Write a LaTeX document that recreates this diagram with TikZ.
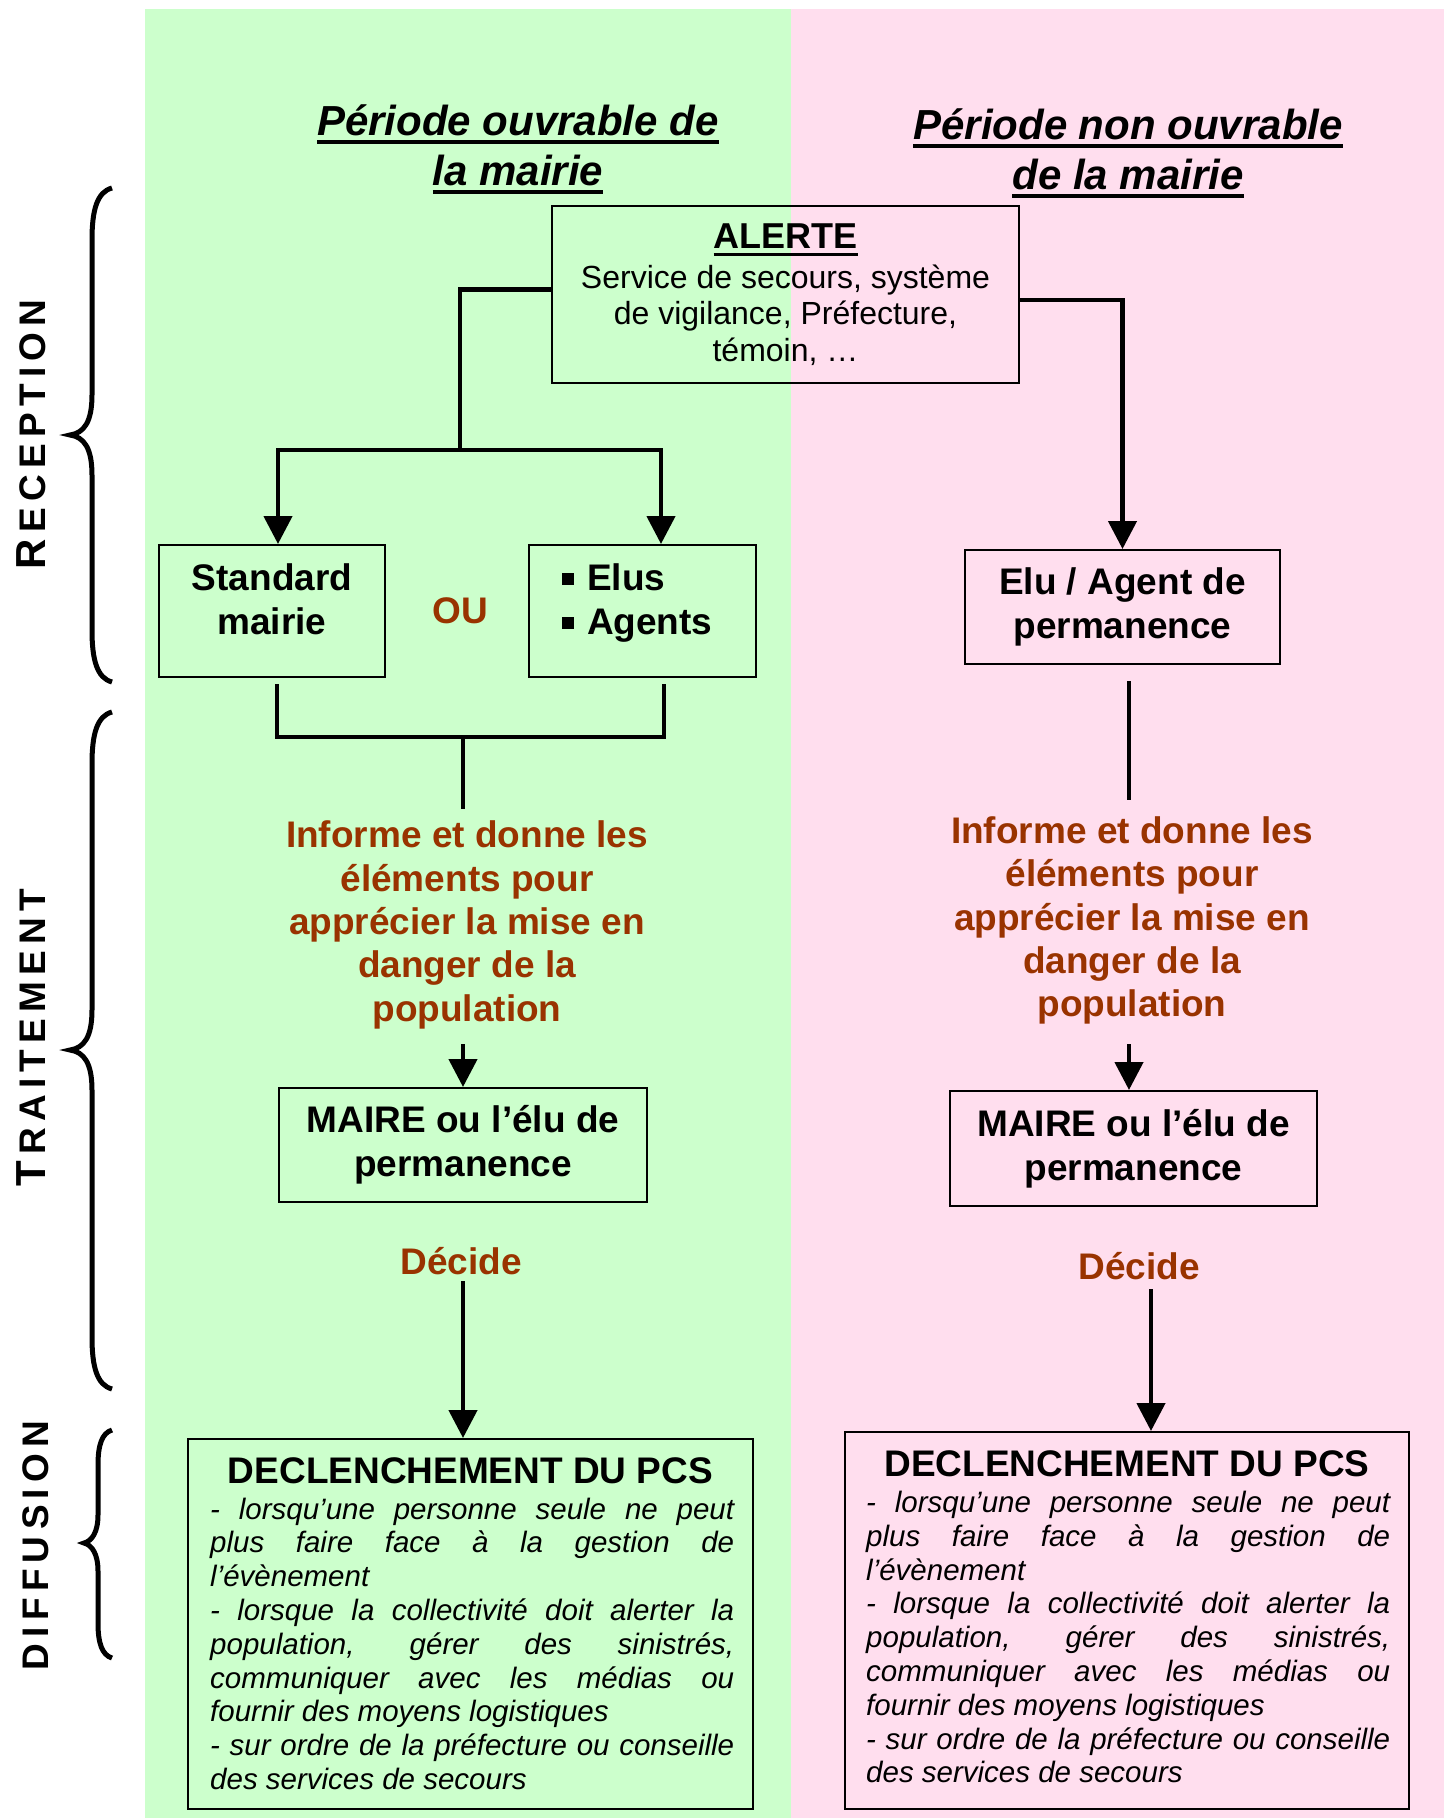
\documentclass[tikz,border=0pt]{standalone}
\usepackage{fontspec}
\setmainfont{Liberation Sans}
\usetikzlibrary{arrows.meta,calc}
\definecolor{bggreen}{HTML}{CCFFCC}
\definecolor{bgpink}{HTML}{FFDEEE}
\definecolor{rust}{HTML}{993300}
\newcommand{\myul}[1]{\setbox0\hbox{#1}\rlap{\rule[-0.2em]{\wd0}{0.09em}}\box0}
\newcommand{\gp}{\hspace{6.3pt}}
\newcommand{\sqbul}{\rule[0.14em]{0.32em}{0.32em}}
\tolerance=10000 \hyphenpenalty=10000 \hbadness=10000
\begin{document}
\begin{tikzpicture}[x=1pt,y=-1pt,
  box/.style={draw=black,line width=2pt,inner sep=0pt},
  conn/.style={line width=4.5pt},
  arr/.style={line width=4.5pt,-{Triangle[width=28pt,length=28pt]}},
  bigb/.style={font=\bfseries\fontsize{37}{44}\selectfont,align=center,inner sep=0pt},
  rusttxt/.style={text=rust,font=\bfseries\fontsize{37}{43.3}\selectfont,align=center,inner sep=0pt},
  titletxt/.style={font=\bfseries\itshape\fontsize{42}{50}\selectfont,align=center,inner sep=0pt},
  body/.style={font=\itshape\fontsize{29.5}{33.8}\selectfont,text width=524pt,align=justify,inner sep=0pt},
  side/.style={font=\bfseries\fontsize{37}{37}\selectfont,rotate=90,inner sep=0pt},
  bracestyle/.style={line width=5pt}]
\useasboundingbox (0,0) rectangle (1447,1818);
\fill[bggreen] (145,9) rectangle (791,1818);
\fill[bgpink] (791,9) rectangle (1444,1818);

% titles
\node[titletxt] (t1) at (518,149.5) {\myul{Période ouvrable de}\\\myul{la mairie}};
\node[titletxt] (t2) at (1128,153) {\myul{Période non ouvrable}\\\myul{de la mairie}};

% alerte
\node[box,minimum width=467pt,minimum height=177pt,align=center,font=\fontsize{32}{36.5}\selectfont] (alerte) at (785.5,294.5)
  {{\bfseries\fontsize{36}{40}\selectfont\myul{ALERTE}}\\[3pt]Service de secours, système\\de vigilance, Préfecture,\\témoin, …};

% reception boxes
\node[box,minimum width=226pt,minimum height=132pt] (std) at (272,611) {};
\node[bigb] (stdt) at (272,599) {Standard\\mairie};
\node[box,minimum width=227pt,minimum height=132pt] (elus) at (642.5,611) {};
\node[bigb,anchor=west,align=left] (elust) at (562,603) {\sqbul\hspace{13pt}Elus\\\sqbul\hspace{13pt}Agents};
\node[rusttxt] (ou) at (460,611) {OU};
\node[box,bigb,minimum width=315pt,minimum height=114pt] (elu) at (1122.5,607) {Elu / Agent de\\permanence};

% connectors top
\coordinate (jA) at (460,450);
\coordinate (bl) at (278,450);
\coordinate (br) at (661,450);
\draw[conn] ([yshift=5pt]alerte.west) -| (jA);
\draw[arr] (jA) -| (bl |- std.north);
\draw[arr] (jA) -| (br |- elus.north);
\draw[arr] ([yshift=-5.5pt]alerte.east) -| (elu.north);

% traitement
\coordinate (sl) at (277,684);
\coordinate (sr) at (664,684);
\coordinate (jB) at (463,737);
\coordinate (iA) at (463,809);
\draw[conn] (sl) |- (sr |- jB) -- (sr);
\draw[conn] (jB) -- (iA);
\coordinate (eA) at (1129,681);
\coordinate (eB) at (1129,800);
\draw[conn] (eA) -- (eB);

\node[rusttxt] (inf1) at (467,925) {Informe et donne les\\éléments pour\\apprécier la mise en\\danger de la\\population};
\node[rusttxt] (inf2) at (1132,920.5) {Informe et donne les\\éléments pour\\apprécier la mise en\\danger de la\\population};

\node[box,bigb,minimum width=368pt,minimum height=114pt] (mairel) at (463,1145) {MAIRE ou l’élu de\\permanence};
\node[box,bigb,minimum width=367pt,minimum height=115pt] (mairer) at (1133.5,1148.5) {MAIRE ou l’élu de\\permanence};
\coordinate (sa1) at (463,1044);
\coordinate (sa2) at (1129,1044);
\draw[arr] (sa1) -- (sa1 |- mairel.north);
\draw[arr] (sa2) -- (sa2 |- mairer.north);

\node[rusttxt] (dec1) at (461,1261) {Décide};
\node[rusttxt] (dec2) at (1139,1266) {Décide};

% diffusion
\node[box,minimum width=565pt,minimum height=370pt] (decl1) at (470.5,1624) {};
\node[box,minimum width=564pt,minimum height=377pt] (decl2) at (1127,1620.5) {};
\coordinate (la1) at (463,1281);
\coordinate (la2) at (1151,1289);
\draw[arr] (la1) -- (la1 |- decl1.north);
\draw[arr] (la2) -- (la2 |- decl2.north);

\node[bigb] (dt1) at (470.5,1471) {DECLENCHEMENT DU PCS};
\node[bigb] (dt2) at (1127,1464) {DECLENCHEMENT DU PCS};
\node[body,anchor=north west] (db1) at (210,1497.5) {- lorsqu’une personne seule ne peut\linebreak plus faire face à la gestion de\linebreak l’évènement\\- lorsque la collectivité doit alerter la\linebreak population, gérer des sinistrés,\linebreak communiquer avec les médias ou\linebreak fournir des moyens logistiques\\- sur ordre de la préfecture ou conseille\linebreak des services de secours};
\node[body,anchor=north west] (db2) at (866,1491) {- lorsqu’une personne seule ne peut\linebreak plus faire face à la gestion de\linebreak l’évènement\\- lorsque la collectivité doit alerter la\linebreak population, gérer des sinistrés,\linebreak communiquer avec les médias ou\linebreak fournir des moyens logistiques\\- sur ordre de la préfecture ou conseille\linebreak des services de secours};

% side labels and braces
\node[side] (lrec) at (31,434.5) {{\fontsize{42}{42}\selectfont R}\gp E\gp C\gp E\gp P\gp T\gp I\gp O\gp N};
\node[side] (ltra) at (31,1037.5) {{\fontsize{42}{42}\selectfont T}\gp R\gp A\gp I\gp T\gp E\gp M\gp E\gp N\gp T};
\node[side] (ldif) at (36,1545.5) {D\gp I\gp F\gp F\gp U\gp S\gp I\gp O\gp N};

\draw[bracestyle] (112,188) .. controls (97,192) and (92,210) .. (92,240) -- (92,395) .. controls (92,422) and (84,433) .. (70,435) .. controls (84,437) and (92,448) .. (92,475) -- (92,630) .. controls (92,660) and (97,678) .. (112,682);
\draw[bracestyle] (112,712) .. controls (97,716) and (92,734) .. (92,764) -- (92,1010) .. controls (92,1037) and (84,1048) .. (70,1050) .. controls (84,1052) and (92,1063) .. (92,1090) -- (92,1337) .. controls (92,1367) and (97,1385) .. (112,1389);
\draw[bracestyle] (112,1430) .. controls (102,1433) and (98,1445) .. (98,1465) -- (98,1515) .. controls (98,1532) and (92,1541) .. (84,1543) .. controls (92,1545) and (98,1554) .. (98,1571) -- (98,1623) .. controls (98,1643) and (102,1655) .. (112,1658);
\end{tikzpicture}
\end{document}
